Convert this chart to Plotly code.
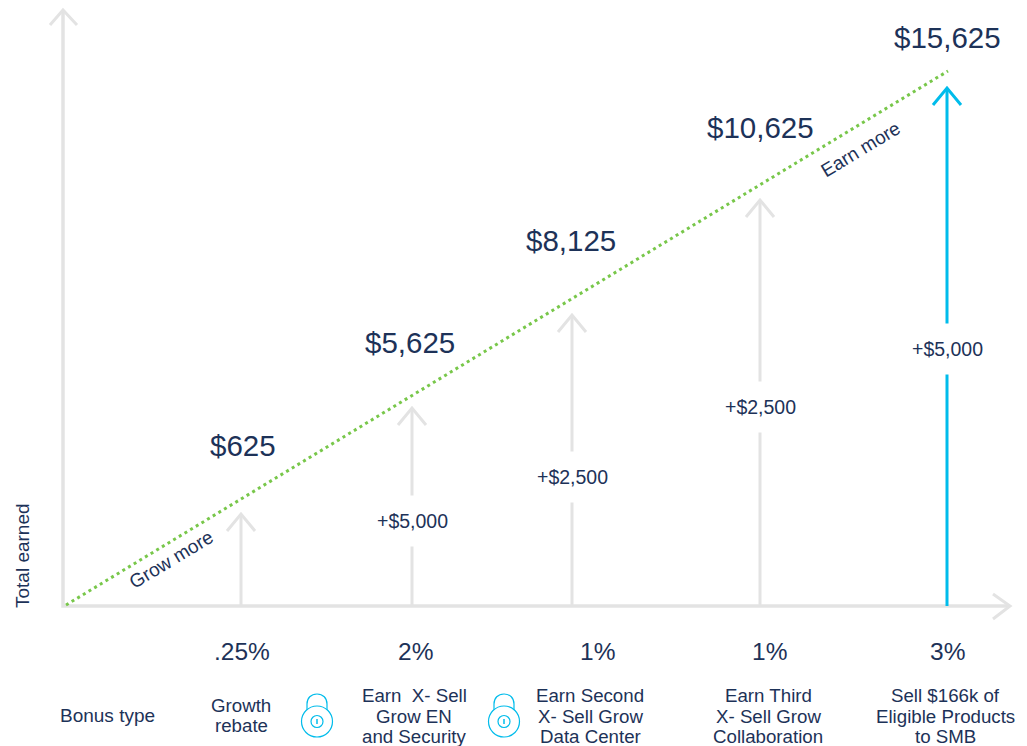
import plotly.graph_objects as go

NAVY = "#1d3258"
GREY = "#e3e3e3"
BLUE = "#00bceb"
GREEN = "#78c74a"
FONT = "Liberation Sans"

step_x = [241, 412, 572, 760, 947]
step_tip = [514, 408, 315, 200, 88]
step_colors = [GREY, GREY, GREY, GREY, BLUE]
base_y = 606
totals = ["$625", "$5,625", "$8,125", "$10,625", "$15,625"]
total_x = [243, 410, 571, 760, 947]
total_y = [445, 342, 240, 127, 37]
increments = ["+$5,000", "+$2,500", "+$2,500", "+$5,000"]
increment_x = [412, 572, 760, 947]
increment_y = [521, 477, 407, 349]
rates = [".25%", "2%", "1%", "1%", "3%"]
rate_x = [242, 415, 597, 769, 947]
bonus_labels = [["Growth", "rebate"], ["Earn  X- Sell", "Grow EN", "and Security"],
                ["Earn Second", "X- Sell Grow", "Data Center"],
                ["Earn Third", "X- Sell Grow", "Collaboration"],
                ["Sell $166k of", "Eligible Products", "to SMB"]]
bonus_x = [241, 414, 590, 768, 945]
bonus_line_y = {2: [705, 725], 3: [695, 716, 736]}
lock_x = [317, 504]
lock_y = 722
trend_x = [66, 948]
trend_y = [605, 71]

fig = go.Figure()

def line(xs, ys, color, width, dash=None):
    fig.add_trace(go.Scatter(x=xs, y=ys, mode="lines", hoverinfo="skip", showlegend=False,
                             line=dict(color=color, width=width, dash=dash)))

# axes
line([63, 63, 1008], [10, 606, 606], GREY, 3.5)
line([50, 63, 77], [25, 10, 25], GREY, 3)
line([993, 1010, 993], [594, 606, 619], GREY, 3)

# step arrows
for x, tip, c in zip(step_x, step_tip, step_colors):
    w = 3
    line([x, x], [base_y, tip], c, w)
    line([x - 14, x, x + 14], [tip + 17, tip, tip + 17], c, w)

# trend
line(trend_x, trend_y, GREEN, 3, "3px,3.6px")

def note(x, y, text, size, angle=0, bg=None, pad=3):
    fig.add_annotation(x=x, y=y, text=text, showarrow=False, textangle=angle, align="center",
                       xanchor="center", yanchor="middle", bgcolor=bg,
                       font=dict(family=FONT, size=size, color=NAVY), borderpad=pad)

for x, y, t in zip(total_x, total_y, totals):
    note(x, y, t, 29.5)
for x, y, t in zip(increment_x, increment_y, increments):
    note(x, y, t, 19.5, bg="white", pad=14)
for x, t in zip(rate_x, rates):
    note(x, 651, t, 24.5)
for x, lines in zip(bonus_x, bonus_labels):
    for y, t in zip(bonus_line_y[len(lines)], lines):
        note(x, y, t, 18.7)
note(107, 715, "Bonus type", 19)
note(22, 556, "Total earned", 19, angle=-90)
note(171, 559, "Grow more", 19, angle=-31)
note(860, 149, "Earn more", 19, angle=-31)

# lock icons
shapes = []
for x in lock_x:
    y = lock_y
    shapes += [
        dict(type="path", path=f"M {x-10} {y-10} L {x-10} {y-18} C {x-10} {y-24} {x-6} {y-28} {x} {y-28} C {x+6} {y-28} {x+10} {y-24} {x+10} {y-18} L {x+10} {y-10}",
             line=dict(color=BLUE, width=1.2)),
        dict(type="circle", x0=x-15.5, x1=x+15.5, y0=y-16, y1=y+15, line=dict(color=BLUE, width=1.2), fillcolor="white"),
        dict(type="circle", x0=x-6, x1=x+6, y0=y-6.5, y1=y+5.5, line=dict(color=BLUE, width=1.2)),
        dict(type="line", x0=x, x1=x, y0=y-3, y1=y+2, line=dict(color=BLUE, width=1.5)),
    ]

fig.update_layout(
    width=1027, height=746, autosize=False, margin=dict(l=0, r=0, t=0, b=0),
    paper_bgcolor="white", plot_bgcolor="white", shapes=shapes, showlegend=False,
    xaxis=dict(range=[0, 1027], visible=False, fixedrange=True),
    yaxis=dict(range=[746, 0], visible=False, fixedrange=True),
)
fig.write_html("out.html", config=dict(displayModeBar=False),
               post_script="document.body.style.margin='0';document.body.style.overflow='hidden';")
